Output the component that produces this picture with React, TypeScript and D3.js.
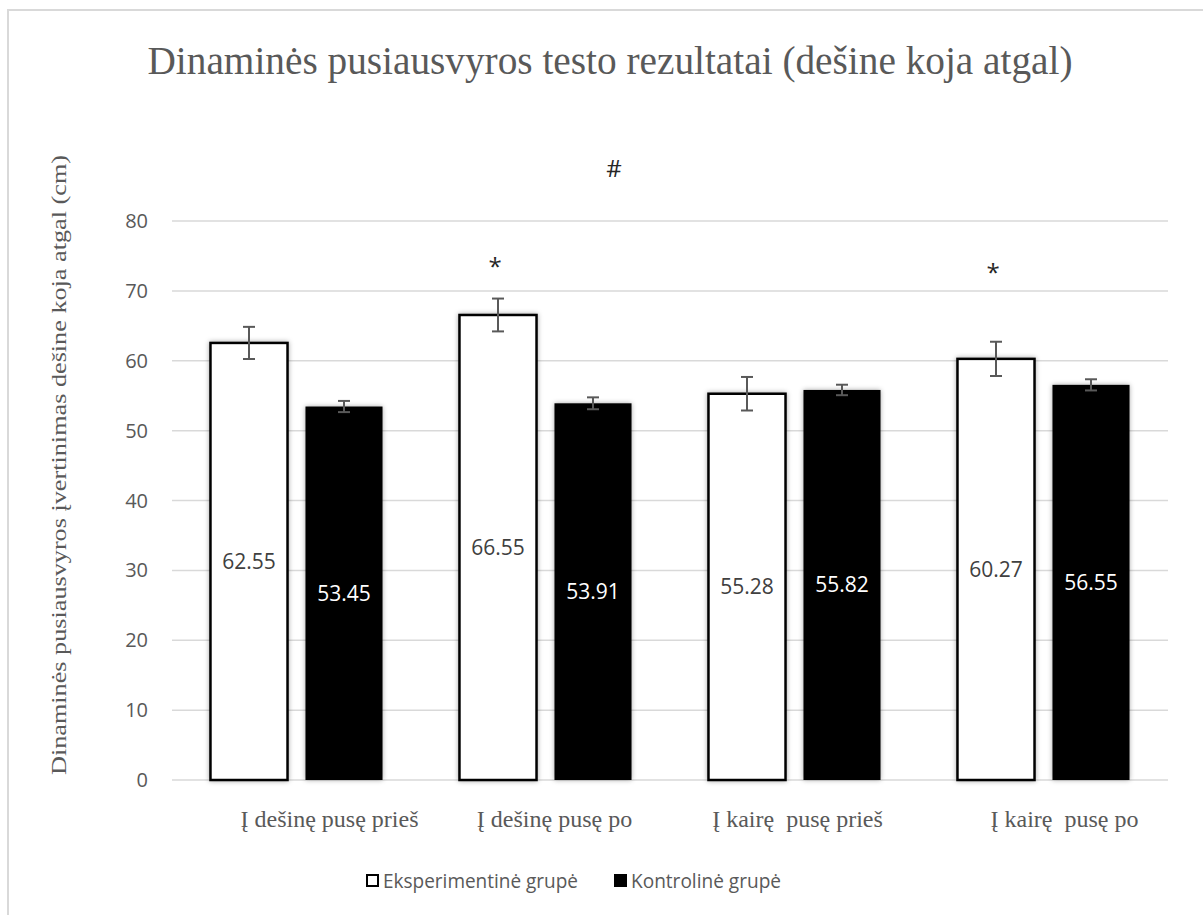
import React, { useRef, useEffect } from "react";
import { select, scaleBand, scaleLinear } from "d3";

// data
const categories = [
  "\u00a0\u00a0\u00a0\u00a0\u00a0\u00a0\u00a0\u00a0\u00a0\u00a0\u00a0Į dešinę pusę prieš",
  "\u00a0\u00a0\u00a0Į dešinę pusę po",
  "\u00a0Į kairę\u00a0 pusę prieš",
  "\u00a0\u00a0\u00a0\u00a0\u00a0\u00a0\u00a0Į kairę\u00a0 pusę po",
];
const seriesNames = ["Eksperimentinė grupė", "Kontrolinė grupė"];
const experimental = [62.55, 66.55, 55.28, 60.27];
const control = [53.45, 53.91, 55.82, 56.55];
const experimentalErr = [2.3, 2.35, 2.4, 2.45];
const controlErr = [0.8, 0.85, 0.75, 0.8];
const yTicks = [0, 10, 20, 30, 40, 50, 60, 70, 80];
const stars = [
  { cat: 1, value: 74.4 },
  { cat: 3, value: 73.5 },
];
const hashValue = 87.5;

const W = 1203;
const H = 915;

const App = () => {
  const svgRef = useRef<SVGSVGElement>(null);

  useEffect(() => {
    const svg = select(svgRef.current);
    svg.selectAll("*").remove();

    const left = 172;
    const right = 1168;
    const top = 221;
    const bottom = 780;

    //scales
    const yScale = scaleLinear().domain([0, 80]).range([bottom, top]);
    const x0 = scaleBand<number>()
      .domain(categories.map((d, i) => i))
      .range([left, right]);
    const x1 = scaleBand<number>()
      .domain([0, 1])
      .range([0, x0.bandwidth()])
      .paddingInner(0.189)
      .paddingOuter(0.405);

    const defs = svg.append("defs");
    const f = defs
      .append("filter")
      .attr("id", "shadow")
      .attr("x", "-20%")
      .attr("y", "-20%")
      .attr("width", "140%")
      .attr("height", "140%");
    f.append("feDropShadow")
      .attr("dx", 0)
      .attr("dy", 0)
      .attr("stdDeviation", 2.5)
      .attr("flood-color", "#000")
      .attr("flood-opacity", 0.35);

    // background + border
    svg.append("rect").attr("width", W).attr("height", H).attr("fill", "#fff");
    svg
      .append("rect")
      .attr("x", 8)
      .attr("y", 10)
      .attr("width", W + 20)
      .attr("height", H + 20)
      .attr("fill", "#fff")
      .attr("stroke", "#d9d9d9")
      .attr("stroke-width", 2);

    // title
    svg
      .append("text")
      .attr("x", 610)
      .attr("y", 74)
      .attr("text-anchor", "middle")
      .attr("font-family", "'Liberation Serif', 'Times New Roman', serif")
      .attr("font-size", 40)
      .attr("fill", "#595959")
      .attr("textLength", 925)
      .attr("lengthAdjust", "spacingAndGlyphs")
      .text("Dinaminės pusiausvyros  testo rezultatai (dešine koja atgal)");

    // gridlines
    svg
      .append("g")
      .selectAll("line")
      .data(yTicks)
      .join("line")
      .attr("x1", left)
      .attr("x2", right)
      .attr("y1", (d) => yScale(d))
      .attr("y2", (d) => yScale(d))
      .attr("stroke", "#d9d9d9")
      .attr("stroke-width", 1.5);

    // y tick labels
    svg
      .append("g")
      .selectAll("text")
      .data(yTicks)
      .join("text")
      .attr("x", 148)
      .attr("y", (d) => yScale(d))
      .attr("dy", "0.35em")
      .attr("text-anchor", "end")
      .attr("font-family", "'Open Sans', sans-serif")
      .attr("font-size", 20)
      .attr("fill", "#595959")
      .text((d) => d);

    // y title
    svg
      .append("text")
      .attr("transform", `translate(66, ${465}) rotate(-90)`)
      .attr("text-anchor", "middle")
      .attr("font-family", "'Liberation Serif', 'Times New Roman', serif")
      .attr("font-size", 21)
      .attr("fill", "#595959")
      .attr("textLength", 620)
      .attr("lengthAdjust", "spacingAndGlyphs")
      .text("Dinaminės  pusiausvyros įvertinimas  dešine koja atgal (cm)");

    const series = [
      { values: experimental, err: experimentalErr, fill: "#ffffff", label: "#404040" },
      { values: control, err: controlErr, fill: "#000000", label: "#ffffff" },
    ];

    // bars
    series.forEach((s, si) => {
      svg
        .append("g")
        .selectAll("rect")
        .data(s.values)
        .join("rect")
        .attr("x", (d, i) => x0(i)! + x1(si)!)
        .attr("y", (d) => yScale(d))
        .attr("width", x1.bandwidth())
        .attr("height", (d) => yScale(0) - yScale(d))
        .attr("fill", s.fill)
        .attr("stroke", "#000")
        .attr("stroke-width", si === 0 ? 2.5 : 0)
        .attr("filter", "url(#shadow)");
    });

    // error bars
    series.forEach((s, si) => {
      const g = svg.append("g").attr("stroke", "#595959").attr("stroke-width", 2);
      s.values.forEach((v, i) => {
        const cx = x0(i)! + x1(si)! + x1.bandwidth() / 2;
        const y1 = yScale(v + s.err[i]);
        const y2 = yScale(v - s.err[i]);
        g.append("line").attr("x1", cx).attr("x2", cx).attr("y1", y1).attr("y2", y2);
        g.append("line").attr("x1", cx - 6).attr("x2", cx + 6).attr("y1", y1).attr("y2", y1);
        g.append("line").attr("x1", cx - 6).attr("x2", cx + 6).attr("y1", y2).attr("y2", y2);
      });
    });

    // data labels
    series.forEach((s, si) => {
      svg
        .append("g")
        .selectAll("text")
        .data(s.values)
        .join("text")
        .attr("x", (d, i) => x0(i)! + x1(si)! + x1.bandwidth() / 2)
        .attr("y", (d) => yScale(d / 2))
        .attr("dy", "0.35em")
        .attr("text-anchor", "middle")
        .attr("font-family", "'Open Sans', sans-serif")
        .attr("font-size", 21)
        .attr("fill", s.label)
        .text((d) => d.toFixed(2));
    });

    // x labels
    svg
      .append("g")
      .selectAll("text")
      .data(categories)
      .join("text")
      .attr("x", (d, i) => x0(i)! + x0.bandwidth() / 2)
      .attr("y", 827)
      .attr("text-anchor", "middle")
      .attr("font-family", "'Liberation Serif', 'Times New Roman', serif")
      .attr("font-size", 24)
      .attr("fill", "#595959")
      .style("white-space", "pre")
      .text((d) => d);

    // significance marks
    svg
      .append("g")
      .selectAll("text")
      .data(stars)
      .join("text")
      .attr("x", (d) => x0(d.cat)! + x1(0)! + x1.bandwidth() / 2 - 3)
      .attr("y", (d) => yScale(d.value))
      .attr("dy", "0.6em")
      .attr("text-anchor", "middle")
      .attr("font-family", "'Open Sans', sans-serif")
      .attr("font-size", 24)
      .attr("fill", "#262626")
      .text("*");

    svg
      .append("text")
      .attr("x", x0(1)! + x1(1)! + x1.bandwidth() / 2 + 21)
      .attr("y", yScale(hashValue))
      .attr("dy", "0.35em")
      .attr("text-anchor", "middle")
      .attr("font-family", "'Open Sans', sans-serif")
      .attr("font-size", 24)
      .attr("fill", "#262626")
      .text("#");

    // legend
    const legendX = [366, 614];
    const legendW = [195, 150];
    const lg = svg.append("g");
    seriesNames.forEach((name, i) => {
      lg.append("rect")
        .attr("x", legendX[i] + (i === 0 ? 1 : 0))
        .attr("y", 874 + (i === 0 ? 1 : 0))
        .attr("width", i === 0 ? 11 : 13)
        .attr("height", i === 0 ? 11 : 13)
        .attr("fill", series[i].fill)
        .attr("stroke", "#000")
        .attr("stroke-width", i === 0 ? 2 : 0);
      lg.append("text")
        .attr("x", legendX[i] + 17)
        .attr("y", 881)
        .attr("dy", "0.36em")
        .attr("font-family", "'Open Sans', sans-serif")
        .attr("font-size", 20)
        .attr("fill", "#595959")
        .attr("textLength", legendW[i])
        .attr("lengthAdjust", "spacingAndGlyphs")
        .text(name);
    });
  }, []);

  return (
    <svg
      ref={svgRef}
      width={W}
      height={H}
      style={{ position: "absolute", left: 0, top: 0, display: "block" }}
    />
  );
};

export default App;
